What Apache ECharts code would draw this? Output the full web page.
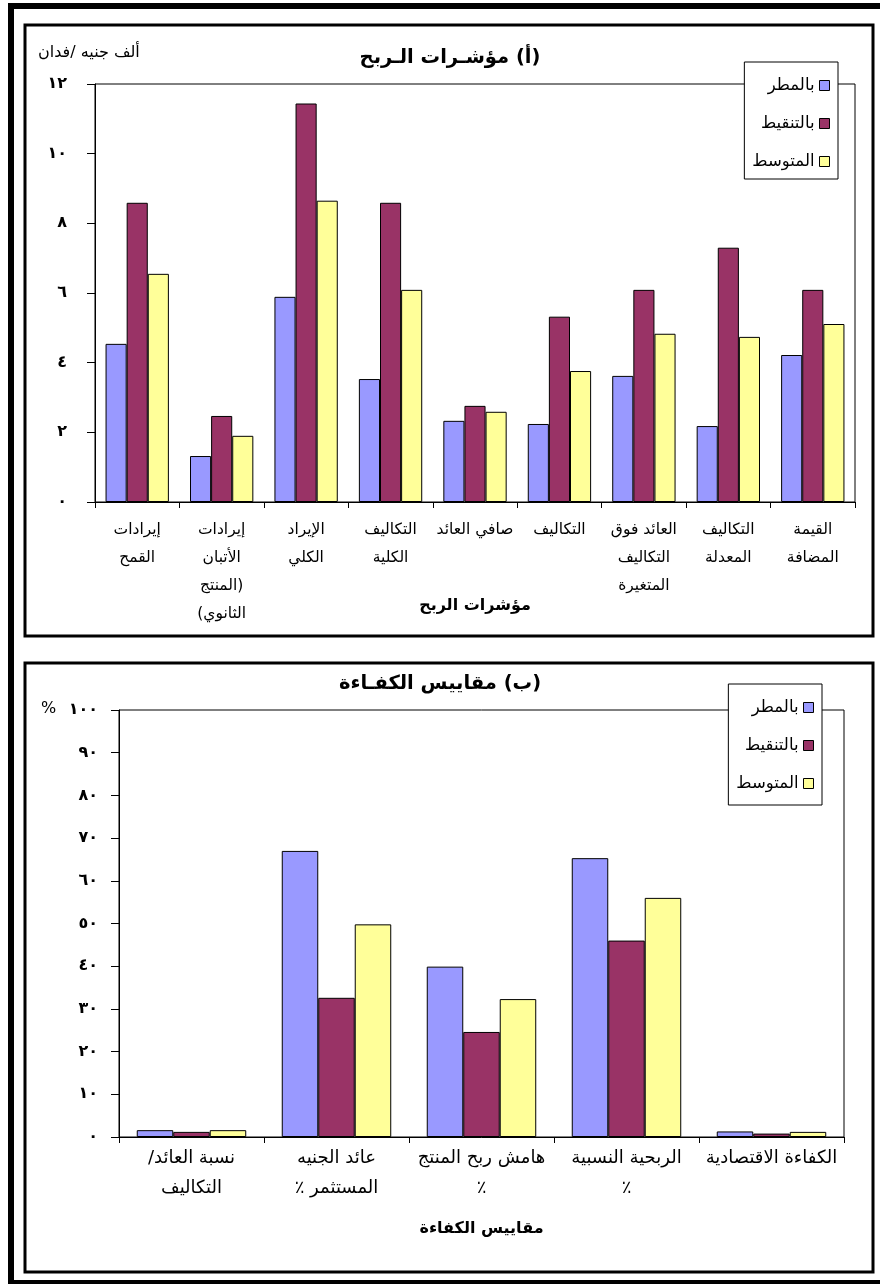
<!DOCTYPE html>
<html>
<head>
<meta charset="utf-8">
<script src="https://cdn.jsdelivr.net/npm/echarts@6/dist/echarts.min.js"></script>
<style>
html,body{margin:0;padding:0;background:#fff;overflow:hidden}
#c{width:880px;height:1284px}
</style>
</head>
<body>
<div id="c" dir="rtl"></div>
<script>
// ---- data ----
const seriesNames = ['بالمطر', 'بالتنقيط', 'المتوسط'];

const profitCategories = [
  'إيرادات\nالقمح',
  'إيرادات\nالأتبان\n(المنتج\nالثانوي)',
  'الإيراد\nالكلي',
  'التكاليف\nالكلية',
  'صافي العائد',
  'التكاليف',
  'العائد فوق\nالتكاليف\nالمتغيرة',
  'التكاليف\nالمعدلة',
  'القيمة\nالمضافة'
];
const profitRain = [4.54, 1.32, 5.89, 3.53, 2.33, 2.24, 3.62, 2.18, 4.22];
const profitDrip = [8.59, 2.47, 11.44, 8.59, 2.76, 5.32, 6.09, 7.30, 6.09];
const profitAvg  = [6.55, 1.90, 8.65, 6.09, 2.59, 3.76, 4.83, 4.74, 5.11];
const profitTickLabels = ['٠', '٢', '٤', '٦', '٨', '١٠', '١٢'];

const effCategories = [
  'نسبة العائد/\nالتكاليف',
  'عائد الجنيه\nالمستثمر ٪',
  'هامش ربح المنتج\n٪',
  'الربحية النسبية\n٪',
  'الكفاءة الاقتصادية'
];
const effRain = [1.6, 67.0, 39.9, 65.3, 1.3];
const effDrip = [1.2, 32.6, 24.6, 46.0, 0.8];
const effAvg  = [1.6, 49.8, 32.3, 56.0, 1.2];
const effTickLabels = ['٠', '١٠', '٢٠', '٣٠', '٤٠', '٥٠', '٦٠', '٧٠', '٨٠', '٩٠', '١٠٠'];

// ---- chart ----
const colors = ['#9999FF', '#993366', '#FFFF99'];
const FONT = '"DejaVu Sans", "Liberation Sans", sans-serif';

function bar(name, data, idx, color, gap) {
  return {
    type: 'bar', name: name, data: data,
    xAxisIndex: idx, yAxisIndex: idx,
    barGap: '0%', barCategoryGap: gap,
    itemStyle: { color: color, borderColor: '#000', borderWidth: 1 }
  };
}

function legendAt(right, top, padding) {
  return {
    data: seriesNames, orient: 'vertical', right: right, top: top,
    align: 'right', icon: 'rect', itemWidth: 10, itemHeight: 10, itemGap: 21,
    padding: padding,
    backgroundColor: '#fff', borderColor: '#000', borderWidth: 1,
    itemStyle: { borderColor: '#000', borderWidth: 1 },
    textStyle: { fontSize: 16.5, color: '#000', fontFamily: FONT }
  };
}

const chart = echarts.init(document.getElementById('c'), null, { renderer: 'canvas' });
const option = {
  animation: false,
  backgroundColor: '#fff',
  color: colors,
  textStyle: { fontFamily: FONT, color: '#000' },
  title: [
    { text: '(أ) مؤشـرات الـربح', left: 450, textAlign: 'center', top: 48, padding: 0,
      textStyle: { fontSize: 19.5, fontWeight: 'bold', color: '#000', fontFamily: FONT } },
    { text: 'ألف جنيه /فدان', left: 38, top: 45, padding: 0,
      textStyle: { fontSize: 16, fontWeight: 'normal', color: '#000', fontFamily: FONT } },
    { text: '(ب) مقاييس الكفـاءة', left: 440, textAlign: 'center', top: 674, padding: 0,
      textStyle: { fontSize: 19.5, fontWeight: 'bold', color: '#000', fontFamily: FONT } },
    { text: '%', left: 41, top: 701, padding: 0,
      textStyle: { fontSize: 16, fontWeight: 'normal', color: '#000', fontFamily: FONT } }
  ],
  legend: [legendAt(42, 62, [15, 8, 9, 8]), legendAt(58, 684, [15, 8, 13, 8])],
  grid: [
    { left: 95, right: 25, top: 84, bottom: 782, show: true, borderColor: '#000', borderWidth: 1, containLabel: false },
    { left: 119, right: 36, top: 710, bottom: 147, show: true, borderColor: '#000', borderWidth: 1, containLabel: false }
  ],
  xAxis: [
    { type: 'category', gridIndex: 0, data: profitCategories,
      axisLine: { lineStyle: { color: '#000', width: 1 } },
      axisTick: { show: true, length: 6, lineStyle: { color: '#000' } },
      axisLabel: { interval: 0, fontSize: 15.5, lineHeight: 28, margin: 14, color: '#000' },
      name: 'مؤشرات الربح', nameLocation: 'middle', nameGap: 96, nameMoveOverlap: false,
      nameTextStyle: { fontSize: 16, fontWeight: 'bold', color: '#000' } },
    { type: 'category', gridIndex: 1, data: effCategories,
      axisLine: { lineStyle: { color: '#000', width: 1 } },
      axisTick: { show: true, length: 6, lineStyle: { color: '#000' } },
      axisLabel: { interval: 0, fontSize: 18, lineHeight: 30, margin: 6, color: '#000' },
      name: 'مقاييس الكفاءة', nameLocation: 'middle', nameGap: 84, nameMoveOverlap: false,
      nameTextStyle: { fontSize: 16, fontWeight: 'bold', color: '#000' } }
  ],
  yAxis: [
    { type: 'value', gridIndex: 0, min: 0, max: 12, interval: 2,
      axisLine: { show: true, lineStyle: { color: '#000', width: 1 } },
      axisTick: { show: true, length: 8, lineStyle: { color: '#000' } },
      splitLine: { show: false },
      axisLabel: { fontSize: 16, fontWeight: 'bold', margin: 28, color: '#000',
        formatter: function (v) { return profitTickLabels[Math.round(v / 2)]; } } },
    { type: 'value', gridIndex: 1, min: 0, max: 100, interval: 10,
      axisLine: { show: true, lineStyle: { color: '#000', width: 1 } },
      axisTick: { show: true, length: 8, lineStyle: { color: '#000' } },
      splitLine: { show: false },
      axisLabel: { fontSize: 16, fontWeight: 'bold', margin: 21, color: '#000',
        formatter: function (v) { return effTickLabels[Math.round(v / 10)]; } } }
  ],
  graphic: [
    { type: 'rect', z: 100, silent: true, shape: { x: 11, y: 6, width: 900, height: 1277 },
      style: { fill: 'none', stroke: '#000', lineWidth: 6 } },
    { type: 'rect', z: 100, silent: true, shape: { x: 25, y: 25, width: 848, height: 611 },
      style: { fill: 'none', stroke: '#000', lineWidth: 3 } },
    { type: 'rect', z: 100, silent: true, shape: { x: 25, y: 663, width: 848, height: 609 },
      style: { fill: 'none', stroke: '#000', lineWidth: 3 } }
  ],
  series: [
    bar(seriesNames[0], profitRain, 0, colors[0], '25%'),
    bar(seriesNames[1], profitDrip, 0, colors[1], '25%'),
    bar(seriesNames[2], profitAvg, 0, colors[2], '25%'),
    bar(seriesNames[0], effRain, 1, colors[0], '24.5%'),
    bar(seriesNames[1], effDrip, 1, colors[1], '24.5%'),
    bar(seriesNames[2], effAvg, 1, colors[2], '24.5%')
  ]
};
chart.setOption(option);
</script>
</body>
</html>
